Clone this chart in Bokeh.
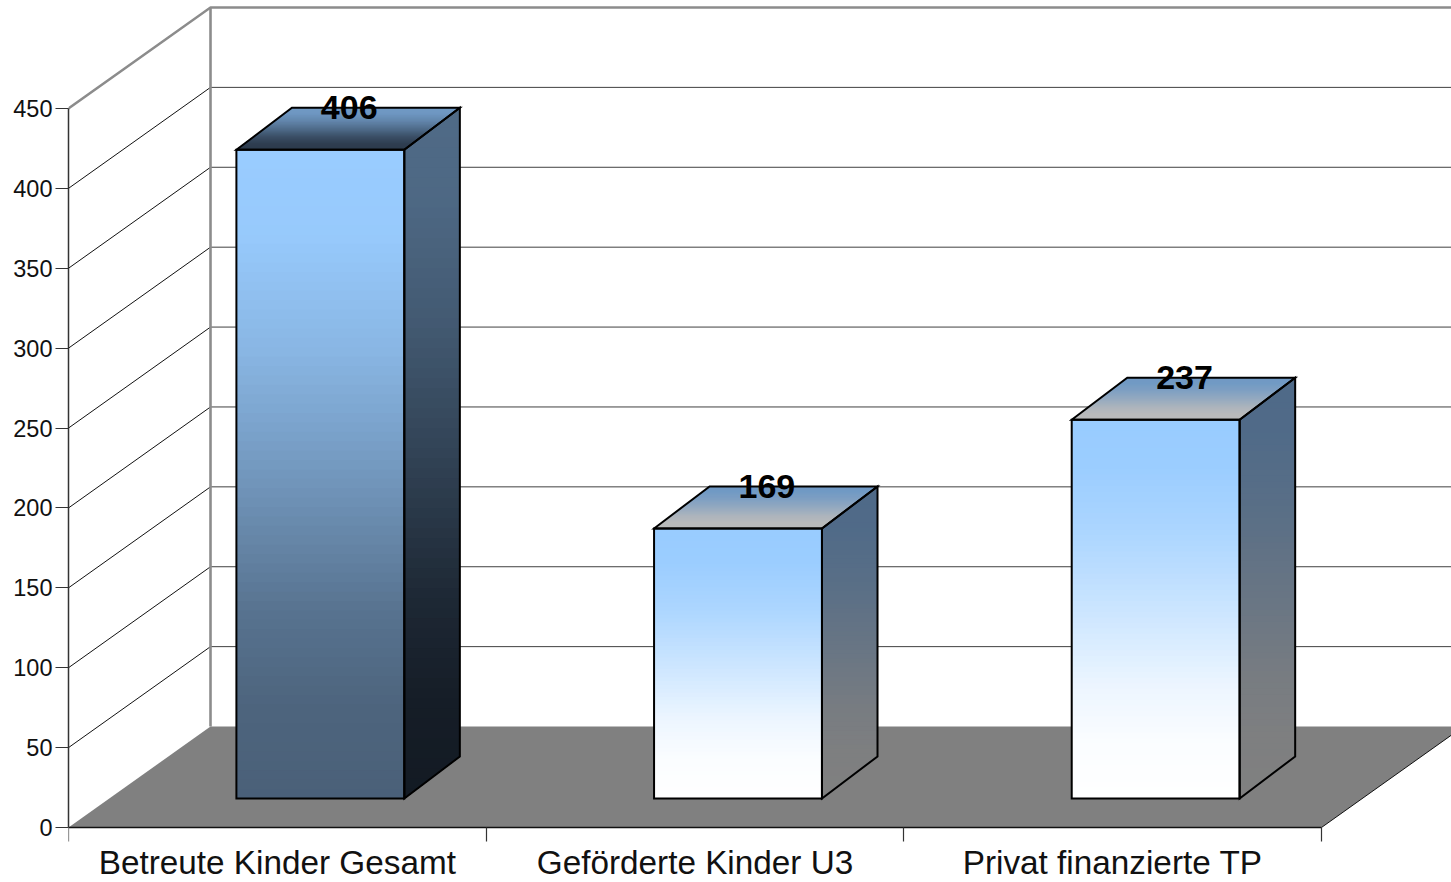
import numpy as np
from bokeh.plotting import figure
from bokeh.embed import file_html
from bokeh.resources import INLINE
from bokeh.models import Range1d, FixedTicker, LinearAxis
from bokeh.core.properties import value

categories = ["Betreute Kinder Gesamt", "Geförderte Kinder U3", "Privat finanzierte TP"]
values = [406, 169, 237]
y_ticks = [0, 50, 100, 150, 200, 250, 300, 350, 400, 450]

# colours of the faces: (start, end) of the vertical gradient
front_cols = [("#99CCFF", "#4A6078"), ("#99CCFF", "#FFFFFF"), ("#99CCFF", "#FFFFFF")]
side_cols = [("#4F6A86", "#131A23"), ("#4F6A88", "#808080"), ("#4F6A88", "#808080")]
top_cols = [("#7099C4", "#2C3A4C"), ("#7099C4", "#BBBBBB"), ("#7099C4", "#BBBBBB")]

# style constants
ramp_t = [0, .12, .3, .5, .7, .85, 1]
ramp_f = [0, .02, .2, .5, .82, .96, 1]
WALL_DX, WALL_DY = 0.34, 63.2
BAR_W, BAR_OFF, BAR_Y0 = 0.402, 0.103, 18.15
BAR_DX, BAR_DY = 0.133, 26.3
N = 70


def mix(c0, c1, f):
    a = [int(c0[i:i + 2], 16) for i in (1, 3, 5)]
    b = [int(c1[i:i + 2], 16) for i in (1, 3, 5)]
    return "#%02x%02x%02x" % tuple(int(round(a[k] + (b[k] - a[k]) * f)) for k in range(3))


def col(pair, t):
    return mix(pair[0], pair[1], float(np.interp(t, ramp_t, ramp_f)))


def clip_below(px, py, level):
    """Keep the part of a polygon that lies at or below a level."""
    ox, oy = [], []
    n = len(px)
    for a in range(n):
        b = (a + 1) % n
        xa, ya, xb, yb = px[a], py[a], px[b], py[b]
        if ya <= level:
            ox.append(xa); oy.append(ya)
        if (ya <= level) != (yb <= level):
            s = (level - ya) / (yb - ya)
            ox.append(xa + (xb - xa) * s); oy.append(level)
    return ox, oy


p = figure(frame_width=1383, frame_height=882, output_backend="svg", toolbar_location=None,
           x_range=Range1d(0, 3.3113), y_range=Range1d(-34.42, 517.58),
           x_axis_location=None, y_axis_location=None,
           min_border_left=68, min_border_right=0, min_border_top=0, min_border_bottom=0)
p.outline_line_color = None
p.grid.visible = False
p.background_fill_color = "white"
p.border_fill_color = "white"

# axes
yax = LinearAxis(ticker=FixedTicker(ticks=y_ticks), bounds=(0, 450))
yax.major_tick_out = 13
yax.major_tick_in = 0
yax.minor_tick_out = 0
yax.minor_tick_in = 0
yax.axis_line_color = "#333333"
yax.axis_line_width = 1.5
yax.major_tick_line_color = "#333333"
yax.major_tick_line_width = 1.2
yax.major_label_text_font = "Liberation Sans"
yax.major_label_text_font_size = "23.5px"
yax.major_label_text_color = "#111111"
yax.major_label_standoff = 3
p.add_layout(yax, "left")

xax = LinearAxis(ticker=FixedTicker(ticks=[0.5, 1.5, 2.5], minor_ticks=[0, 1, 2, 3]), bounds=(0, 3),
                 fixed_location=0)
xax.major_label_overrides = {0.5: categories[0], 1.5: categories[1], 2.5: categories[2]}
xax.major_tick_out = 0
xax.major_tick_in = 0
xax.minor_tick_out = 14
xax.minor_tick_in = 0
xax.minor_tick_line_color = "#333333"
xax.minor_tick_line_width = 1.2
xax.axis_line_color = "#111111"
xax.axis_line_width = 1.5
xax.major_label_text_font = "Liberation Sans"
xax.major_label_text_font_size = "33.3px"
xax.major_label_text_color = "#111111"
xax.major_label_standoff = 2
p.add_layout(xax, "below")

# walls and floor
grid_v = y_ticks[1:-1]
p.segment(x0=[WALL_DX] * len(grid_v), x1=[3.4] * len(grid_v),
          y0=[v + WALL_DY for v in grid_v], y1=[v + WALL_DY for v in grid_v],
          line_color="#404040", line_width=1)
p.segment(x0=[0] * len(grid_v), x1=[WALL_DX] * len(grid_v),
          y0=grid_v, y1=[v + WALL_DY for v in grid_v], line_color="#111111", line_width=1)
top = y_ticks[-1]
p.line([0, WALL_DX, 3.4], [top, top + WALL_DY, top + WALL_DY], line_color="#8C8C8C", line_width=2.4)
p.line([WALL_DX, WALL_DX], [WALL_DY, top + WALL_DY], line_color="#8C8C8C", line_width=2.6)
p.patch([0, WALL_DX, 3 + WALL_DX, 3], [0, WALL_DY, WALL_DY, 0], fill_color="#808080", line_color=None)
p.line([3, 3 + WALL_DX], [0, WALL_DY], line_color="#111111", line_width=1)

# bars: gradient strips painted from the far end to the near end, outline on top
xs, ys, cs = [], [], []
oxs, oys = [], []
for i, v in enumerate(values):
    x0 = i + 0.5 + BAR_OFF - BAR_W / 2
    x1 = x0 + BAR_W
    yb = BAR_Y0
    yt = BAR_Y0 + v
    side_x = [x1, x1 + BAR_DX, x1 + BAR_DX, x1]
    side_y = [yt, yt + BAR_DY, yb + BAR_DY, yb]
    for k in range(N):
        t = k / (N - 1)
        y = yt + (yb - yt) * t
        xs.append([x0, x1, x1, x0]); ys.append([y, y, yb, yb]); cs.append(col(front_cols[i], t))
        # side face: horizontal bands over its whole height
        level = yt + BAR_DY + (yb - yt - BAR_DY) * t
        sx, sy = clip_below(side_x, side_y, level)
        xs.append(sx); ys.append(sy); cs.append(col(side_cols[i], t))
    for k in range(40):
        t = k / 39
        d = 1 - t
        xs.append([x0 + BAR_DX * d, x1 + BAR_DX * d, x1, x0])
        ys.append([yt + BAR_DY * d, yt + BAR_DY * d, yt, yt]); cs.append(col(top_cols[i], t))
    oxs += [[x0, x1, x1, x0], side_x, [x0, x0 + BAR_DX, x1 + BAR_DX, x1]]
    oys += [[yt, yt, yb, yb], side_y, [yt, yt + BAR_DY, yt + BAR_DY, yt]]

p.patches(xs, ys, fill_color=cs, line_color=None)
p.patches(oxs, oys, fill_color=None, line_color="#000000", line_width=2, line_join="miter")

# data labels
p.text(x=[i + 0.5 + BAR_OFF + BAR_DX * 0.52 for i in range(3)],
       y=[v + BAR_Y0 + BAR_DY for v in values],
       text=[str(v) for v in values],
       text_font=value("Liberation Sans"), text_font_style="bold", text_font_size="34px",
       text_align="center", text_baseline="middle", text_color="#000000")

open("out.html", "w").write(file_html(p, INLINE))
